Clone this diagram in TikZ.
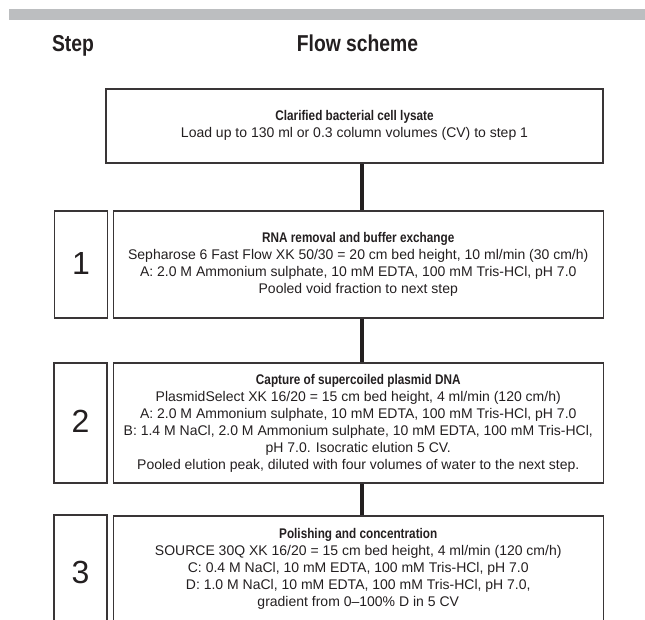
\documentclass[tikz,border=0pt]{standalone}
\usepackage{fontspec}
\setmainfont{Liberation Sans}
\newfontfamily\condbf[FakeStretch=0.84]{Liberation Sans Bold}
\definecolor{ink}{RGB}{35,31,32}
\definecolor{barcol}{RGB}{188,190,192}
\begin{document}
\begin{tikzpicture}[x=1pt,y=-1pt,line join=miter,font=\fontsize{14}{17}\selectfont,text=ink]
	\tikzset{box/.style={draw=ink!90,line width=1.3pt,inner sep=0pt},
		num/.style={font=\fontsize{32}{32}\selectfont},
		head/.style={font=\condbf\fontsize{23}{23}\selectfont,anchor=base},
		flow/.style={draw=ink,line width=3.2pt}}
	\useasboundingbox (0,0) rectangle (645,619);
	\clip (0,0) rectangle (645,619);
	\fill[barcol] (9,9.3) rectangle (645,20);
	\node[head] (hstep) at (73,51) {Step};
	\node[head] (hflow) at (357.5,51.5) {Flow scheme};
	% boxes
	\node[box,minimum width=497pt,minimum height=74pt] (lysate) at (354.5,126) {};
	\node[box,minimum width=490pt,minimum height=107pt] (rna) at (358.25,264.5) {};
	\node[box,minimum width=490pt,minimum height=120pt] (capture) at (358.25,423) {};
	\node[box,minimum width=490pt,minimum height=114pt] (polish) at (358.25,573) {};
	\node[box,minimum width=53pt,minimum height=107pt] (s1) at (81,264.5) {};
	\node[box,minimum width=53pt,minimum height=120pt] (s2) at (80.5,423) {};
	\node[box,minimum width=53pt,minimum height=116pt] (s3) at (80.5,573) {};
	\node[num] (n1) at (81,263) {1};
	\node[num] (n2) at (80.5,421) {2};
	\node[num] (n3) at (80.5,572) {3};
	% texts
	\node[align=center] (t0) at (354.5,125.5) {{\condbf Clarified bacterial cell lysate}\\
		Load up to 130 ml or 0.3 column volumes (CV) to step 1};
	\node[align=center] (t1) at (rna) {{\condbf RNA removal and buffer exchange}\\
		Sepharose 6 Fast Flow XK 50/30 = 20 cm bed height, 10 ml/min (30 cm/h)\\
		A: 2.0 M Ammonium sulphate, 10 mM EDTA, 100 mM Tris-HCl, pH 7.0\\
		Pooled void fraction to next step};
	\node[align=center] (t2) at (capture) {{\condbf Capture of supercoiled plasmid DNA}\\
		PlasmidSelect XK 16/20 = 15 cm bed height, 4 ml/min (120 cm/h)\\
		A: 2.0 M Ammonium sulphate, 10 mM EDTA, 100 mM Tris-HCl, pH 7.0\\
		B: 1.4 M NaCl, 2.0 M Ammonium sulphate, 10 mM EDTA, 100 mM Tris-HCl,\\
		pH 7.0. Isocratic elution 5 CV.\\
		Pooled elution peak, diluted with four volumes of water to the next step.};
	\node[align=center] (t3) at (358.25,569) {{\condbf Polishing and concentration}\\
		SOURCE 30Q XK 16/20 = 15 cm bed height, 4 ml/min (120 cm/h)\\
		C: 0.4 M NaCl, 10 mM EDTA, 100 mM Tris-HCl, pH 7.0\\
		D: 1.0 M NaCl, 10 mM EDTA, 100 mM Tris-HCl, pH 7.0,\\
		gradient from 0--100\% D in 5 CV};
	% connectors
	\coordinate (cx) at (362,0);
	\draw[flow] (lysate.south -| cx) -- (rna.north -| cx);
	\draw[flow] (rna.south -| cx) -- (capture.north -| cx);
	\draw[flow] (capture.south -| cx) -- (polish.north -| cx);
\end{tikzpicture}
\end{document}
